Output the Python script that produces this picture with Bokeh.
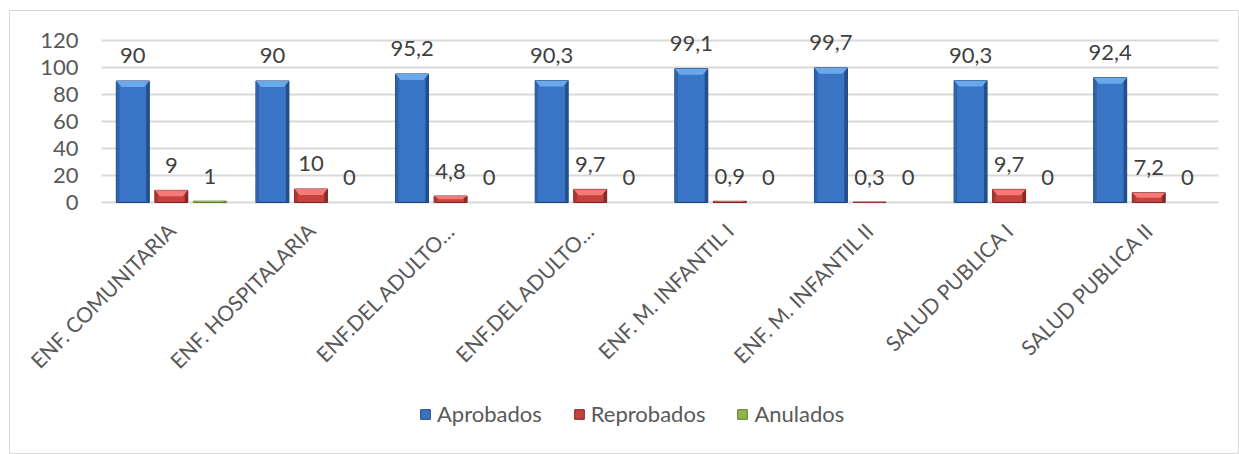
import math
from bokeh.plotting import figure
from bokeh.models import ColumnDataSource, FixedTicker, Legend, LegendItem, LinearAxis
from bokeh.core.properties import value
from bokeh.embed import file_html
from bokeh.resources import INLINE

categories = ["ENF. COMUNITARIA", "ENF. HOSPITALARIA", "ENF.DEL ADULTO…", "ENF.DEL ADULTO…",
              "ENF. M. INFANTIL I", "ENF. M. INFANTIL II", "SALUD PUBLICA I", "SALUD PUBLICA II"]
aprobados = [90, 90, 95.2, 90.3, 99.1, 99.7, 90.3, 92.4]
reprobados = [9, 10, 4.8, 9.7, 0.9, 0.3, 9.7, 7.2]
anulados = [1, 0, 0, 0, 0, 0, 0, 0]
series_names = ["Aprobados", "Reprobados", "Anulados"]
y_ticks = [0, 20, 40, 60, 80, 100, 120]

FONT = "Lato"
fill_colors = ["#3a74c4", "#c8413e", "#8fb44a"]
line_colors = ["#1d3f72", "#7a2422", "#5a7a2a"]
left_colors = ["#2f62a8", "#a83533", "#7a9a3c"]
right_colors = ["#22508c", "#8a2a28", "#5f7e2c"]
cap_colors = ["#6aa8ec", "#f37a77", "#c2e080"]

W = 1239
H = 454
p = figure(width=W, height=H, x_range=(-1.159, 7.650), y_range=(-185.9, 142.2),
           output_backend="svg", toolbar_location=None,
           x_axis_location=None, y_axis_location=None,
           min_border_left=9, min_border_right=0, min_border_top=10, min_border_bottom=1,
           background_fill_color="white", border_fill_color="white")
p.outline_line_color = "#d9d9d9"
p.outline_line_width = 1
p.xgrid.grid_line_color = None
p.ygrid.grid_line_color = None

n = len(categories)
p.segment(x0=[-0.5] * len(y_ticks), x1=[n - 0.5] * len(y_ticks), y0=y_ticks, y1=y_ticks,
          line_color="#d9d9d9", line_width=2)

yaxis = LinearAxis(ticker=FixedTicker(ticks=y_ticks), fixed_location=-0.5)
yaxis.axis_line_color = None
yaxis.major_tick_line_color = None
yaxis.minor_tick_line_color = None
yaxis.major_tick_out = 0
yaxis.minor_tick_out = 0
yaxis.major_label_standoff = 23
yaxis.major_label_text_font = FONT
yaxis.major_label_text_font_size = "22px"
yaxis.major_label_text_color = "#595959"
p.add_layout(yaxis, "left")

idx = list(range(n))
xaxis = LinearAxis(ticker=FixedTicker(ticks=idx), fixed_location=0)
xaxis.major_label_overrides = {i: c for i, c in enumerate(categories)}
xaxis.major_label_orientation = math.pi / 4
xaxis.axis_line_color = None
xaxis.major_tick_line_color = None
xaxis.minor_tick_line_color = None
xaxis.major_tick_out = 0
xaxis.minor_tick_out = 0
xaxis.major_label_standoff = 24
xaxis.major_label_text_font = FONT
xaxis.major_label_text_font_size = "21px"
xaxis.major_label_text_color = "#595959"
p.add_layout(xaxis, "below")

offsets = [-0.276, 0.0, 0.276]
bw = 0.236
sw = 0.022
cap_d = 4.4
inset = 0.036

def fmt(v):
    if float(v).is_integer():
        return str(int(v))
    return ("%g" % v).replace(".", ",")

items = []
for k, vals in enumerate([aprobados, reprobados, anulados]):
    xs = [i + offsets[k] for i in idx]
    src = ColumnDataSource(dict(x=xs, top=vals, lab=[fmt(v) for v in vals],
                                la=[1.0 if v > 0 else 0.0 for v in vals],
                                xl=[x - bw / 2 + sw / 2 for x in xs],
                                xr=[x + bw / 2 - sw / 2 for x in xs]))
    r = p.vbar(x="x", top="top", bottom=0, width=bw, source=src,
               fill_color=fill_colors[k], line_color=line_colors[k], line_width=1,
               line_alpha="la")
    p.vbar(x="xl", top="top", bottom=0, width=sw, source=src,
           fill_color=left_colors[k], line_color=None, fill_alpha="la")
    p.vbar(x="xr", top="top", bottom=0, width=sw, source=src,
           fill_color=right_colors[k], line_color=None, fill_alpha="la")
    pxs, pys = [], []
    for x, v in zip(xs, vals):
        if v <= 0:
            continue
        d = min(cap_d, v * 0.5)
        pxs.append([x - bw / 2, x + bw / 2, x + bw / 2 - inset, x - bw / 2 + inset])
        pys.append([v, v, v - d, v - d])
    if pxs:
        p.patches(pxs, pys, fill_color=cap_colors[k], line_color=None)
    p.text(x="x", y="top", text="lab", source=src, text_align="center",
           text_baseline="middle", y_offset=-25, text_font=value(FONT),
           text_font_size="22px", text_color="#404040")
    items.append(LegendItem(label=series_names[k], renderers=[r]))

legend = Legend(items=items, orientation="horizontal", location=(410, 26),
                glyph_width=12, glyph_height=12, label_text_font=FONT,
                label_text_font_size="22px", label_text_color="#595959",
                spacing=31, padding=0, margin=0, label_standoff=6,
                border_line_color=None, background_fill_alpha=0)
p.add_layout(legend, "center")

open("out.html", "w").write(file_html(p, INLINE))
